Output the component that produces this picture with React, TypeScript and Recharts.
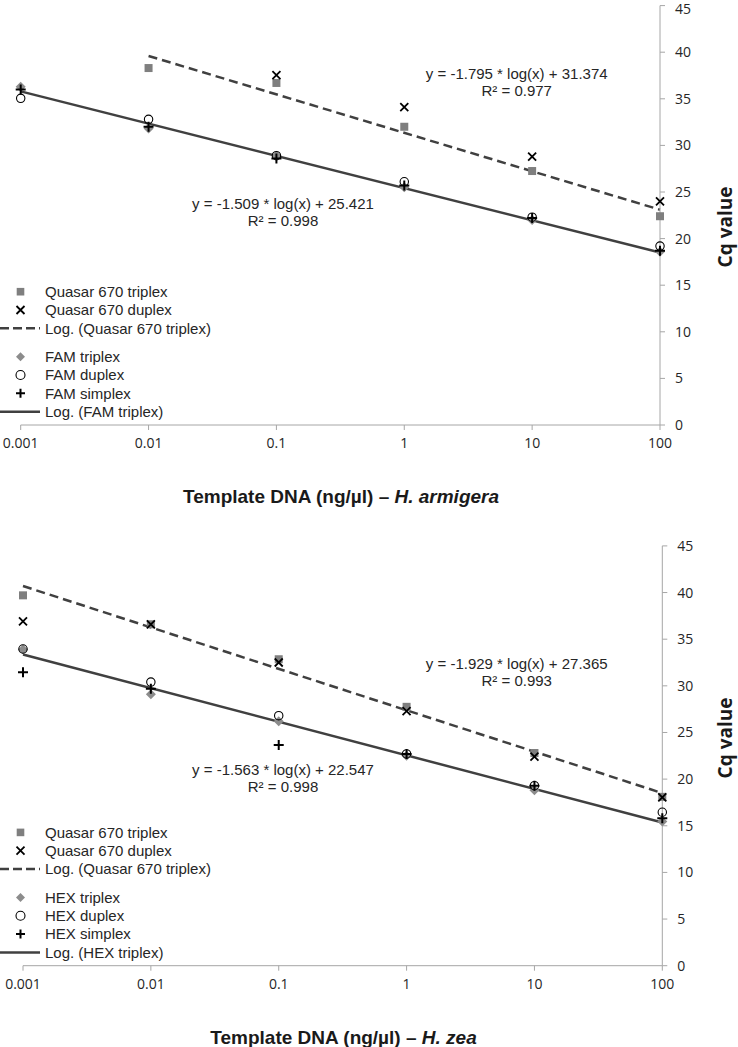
import { ComposedChart, XAxis, YAxis, Scatter, Line, Customized } from "recharts";

// x categories (ng/µl) and y ticks
const concentrations = [0.001, 0.01, 0.1, 1, 10, 100];
const cqTicks = [0, 5, 10, 15, 20, 25, 30, 35, 40, 45];

// H. armigera
const armQuasarTriplex = [null, 38.3, 36.7, 32.0, 27.25, 22.4];
const armQuasarDuplex = [null, null, 37.55, 34.1, 28.8, 24.0];
const armFamTriplex = [36.3, 31.8, 28.9, 25.5, 22.0, 18.6];
const armFamDuplex = [35.05, 32.8, 28.9, 26.1, 22.3, 19.2];
const armFamSimplex = [36.0, 32.0, 28.6, 25.7, 22.2, 18.7];
const armQuasarFitX = [0.01, 100];
const armQuasarFitY = [39.6, 23.1];
const armFamFitX = [0.001, 100];
const armFamFitY = [35.8, 18.5];

// H. zea
const zeaQuasarTriplex = [39.7, 36.6, 32.85, 27.75, 22.8, 18.1];
const zeaQuasarDuplex = [36.9, 36.6, 32.5, 27.3, 22.4, 18.05];
const zeaHexTriplex = [33.9, 29.1, 26.2, 22.5, 18.8, 15.45];
const zeaHexDuplex = [33.95, 30.4, 26.8, 22.7, 19.3, 16.45];
const zeaHexSimplex = [31.45, 29.7, 23.65, 22.7, 19.3, 15.8];
const zeaQuasarFitX = [0.001, 100];
const zeaQuasarFitY = [40.7, 18.5];
const zeaHexFitX = [0.001, 100];
const zeaHexFitY = [33.35, 15.35];

const pts = (xs: number[], ys: (number | null)[]) =>
  xs.map((x, i) => ({ x, y: ys[i] })).filter((p) => p.y != null);

const TEXT = "'Liberation Sans', Arial, sans-serif";
const TICKFONT = "'Open Sans', sans-serif";
const AXIS = "#a6a6a6";
const LINE = "#404040";

function Sq({ cx, cy, s = 4 }: any) {
  return <rect x={cx - s} y={cy - s} width={s * 2} height={s * 2} fill="#7f7f7f" />;
}
function Ex({ cx, cy, s = 4 }: any) {
  return <path d={`M${cx - s},${cy - s}L${cx + s},${cy + s}M${cx + s},${cy - s}L${cx - s},${cy + s}`} stroke="#000" strokeWidth={1.8} fill="none" />;
}
function Dia({ cx, cy, s = 5 }: any) {
  return <path d={`M${cx},${cy - s}L${cx + s},${cy}L${cx},${cy + s}L${cx - s},${cy}Z`} fill="#8c8c8c" />;
}
function Circ({ cx, cy, s = 4.2 }: any) {
  return <circle cx={cx} cy={cy} r={s} fill="none" stroke="#000" strokeWidth={1.1} />;
}
function Plus({ cx, cy, s = 5 }: any) {
  return <path d={`M${cx - s},${cy}L${cx + s},${cy}M${cx},${cy - s}L${cx},${cy + s}`} stroke="#000" strokeWidth={2} fill="none" />;
}

// y tick label, nudged down a little when it would touch the top edge
function CqTick({ x, y, payload }: any) {
  const yy = Math.max(y, 7.5);
  return (
    <text x={x} y={yy} dy="0.355em" fontSize={14} fill="#262626" fontFamily={TICKFONT} textAnchor="start">
      {payload.value}
    </text>
  );
}

type Eq = { x: number; y: number; text: string; r2: string };

function Panel(p: {
  height: number;
  margin: { top: number; left: number; right: number; bottom: number };
  plotBottom: number;
  dye: string;
  species: string;
  titleX: number;
  cqY: number;
  qTri: (number | null)[];
  qDup: (number | null)[];
  dTri: number[];
  dDup: number[];
  dSim: number[];
  qFit: { x: number; y: number }[];
  dFit: { x: number; y: number }[];
  eqQ: Eq;
  eqD: Eq;
}) {
  const B = p.plotBottom;
  const rows = [-133.3, -115, -96.7, -68.3, -50, -31.7, -13.3].map((d) => B + d);
  const labels = [
    "Quasar 670 triplex",
    "Quasar 670 duplex",
    "Log. (Quasar 670 triplex)",
    `${p.dye} triplex`,
    `${p.dye} duplex`,
    `${p.dye} simplex`,
    `Log. (${p.dye} triplex)`,
  ];
  const overlay = () => (
    <g fontFamily={TEXT}>
      {/* legend */}
      <Sq cx={20.5} cy={rows[0]} s={3.8} />
      <Ex cx={20.5} cy={rows[1]} s={4} />
      <line x1={0} x2={40} y1={rows[2]} y2={rows[2]} stroke={LINE} strokeWidth={2.5} strokeDasharray="9 4" />
      <Dia cx={20.5} cy={rows[3]} s={4.5} />
      <Circ cx={20.5} cy={rows[4]} s={4.5} />
      <Plus cx={20.5} cy={rows[5]} s={4.5} />
      <line x1={0} x2={40} y1={rows[6]} y2={rows[6]} stroke={LINE} strokeWidth={2.5} />
      {labels.map((t, i) => (
        <text key={t} x={45} y={rows[i] + 5.3} fontSize={15} fill="#262626">{t}</text>
      ))}
      {/* trend equations */}
      {[p.eqQ, p.eqD].map((e) => (
        <g key={e.text} fontSize={15} fill="#262626" textAnchor="middle">
          <text x={e.x} y={e.y + 5.3}>{e.text}</text>
          <text x={e.x} y={e.y + 22.3}>{e.r2}</text>
        </g>
      ))}
      {/* axis titles */}
      <text x={p.titleX} y={B + 78} textAnchor="middle" fontSize={19} fontWeight="bold" fill="#1a1a1a">
        Template DNA (ng/µl) – <tspan fontStyle="italic">{p.species}</tspan>
      </text>
      <text x={732} y={p.cqY} transform={`rotate(-90 732 ${p.cqY})`} textAnchor="middle" fontSize={19} fontWeight="bold" fontFamily={TICKFONT} fill="#1a1a1a">
        Cq value
      </text>
    </g>
  );
  return (
    <ComposedChart width={738} height={p.height} margin={p.margin}>
      <XAxis
        dataKey="x"
        type="number"
        scale="log"
        domain={[0.001, 100]}
        ticks={concentrations}
        height={30}
        tickSize={5}
        tickMargin={8}
        stroke={AXIS}
        tick={{ fontSize: 14, fill: "#262626", fontFamily: TICKFONT }}
        tickFormatter={(v: number) => String(v)}
      />
      <YAxis
        dataKey="y"
        type="number"
        orientation="right"
        domain={[0, 45]}
        ticks={cqTicks}
        width={60}
        tickSize={5}
        tickMargin={10}
        stroke={AXIS}
        tick={<CqTick />}
      />
      <Line data={p.qFit} dataKey="y" type="linear" stroke={LINE} strokeWidth={2.5} strokeDasharray="9 5" dot={false} isAnimationActive={false} />
      <Line data={p.dFit} dataKey="y" type="linear" stroke={LINE} strokeWidth={2.5} dot={false} isAnimationActive={false} />
      <Scatter data={pts(concentrations, p.qTri)} dataKey="y" shape={(s: any) => <Sq cx={s.cx} cy={s.cy} />} isAnimationActive={false} />
      <Scatter data={pts(concentrations, p.qDup)} dataKey="y" shape={(s: any) => <Ex cx={s.cx} cy={s.cy} />} isAnimationActive={false} />
      <Scatter data={pts(concentrations, p.dTri)} dataKey="y" shape={(s: any) => <Dia cx={s.cx} cy={s.cy} />} isAnimationActive={false} />
      <Scatter data={pts(concentrations, p.dDup)} dataKey="y" shape={(s: any) => <Circ cx={s.cx} cy={s.cy} />} isAnimationActive={false} />
      <Scatter data={pts(concentrations, p.dSim)} dataKey="y" shape={(s: any) => <Plus cx={s.cx} cy={s.cy} />} isAnimationActive={false} />
      <Customized component={overlay} />
    </ComposedChart>
  );
}

export default function App() {
  return (
    <div style={{ position: "absolute", left: 0, top: 0, width: 738, height: 1047, background: "#fff" }}>
      <Panel
        height={520}
        margin={{ top: 5.6, left: 20.7, right: 18, bottom: 65 }}
        plotBottom={425}
        dye="FAM"
        species="H. armigera"
        titleX={341}
        cqY={227}
        qTri={armQuasarTriplex}
        qDup={armQuasarDuplex}
        dTri={armFamTriplex}
        dDup={armFamDuplex}
        dSim={armFamSimplex}
        qFit={pts(armQuasarFitX, armQuasarFitY) as any}
        dFit={pts(armFamFitX, armFamFitY) as any}
        eqQ={{ x: 516.7, y: 74, text: "y = -1.795 * log(x) + 31.374", r2: "R² = 0.977" }}
        eqD={{ x: 283, y: 204, text: "y = -1.509 * log(x) + 25.421", r2: "R² = 0.998" }}
      />
      <Panel
        height={527}
        margin={{ top: 25.9, left: 23, right: 15.7, bottom: 51.3 }}
        plotBottom={445.7}
        dye="HEX"
        species="H. zea"
        titleX={343.5}
        cqY={218}
        qTri={zeaQuasarTriplex}
        qDup={zeaQuasarDuplex}
        dTri={zeaHexTriplex}
        dDup={zeaHexDuplex}
        dSim={zeaHexSimplex}
        qFit={pts(zeaQuasarFitX, zeaQuasarFitY) as any}
        dFit={pts(zeaHexFitX, zeaHexFitY) as any}
        eqQ={{ x: 516.7, y: 144, text: "y = -1.929 * log(x) + 27.365", r2: "R² = 0.993" }}
        eqD={{ x: 283, y: 249.3, text: "y = -1.563 * log(x) + 22.547", r2: "R² = 0.998" }}
      />
    </div>
  );
}
